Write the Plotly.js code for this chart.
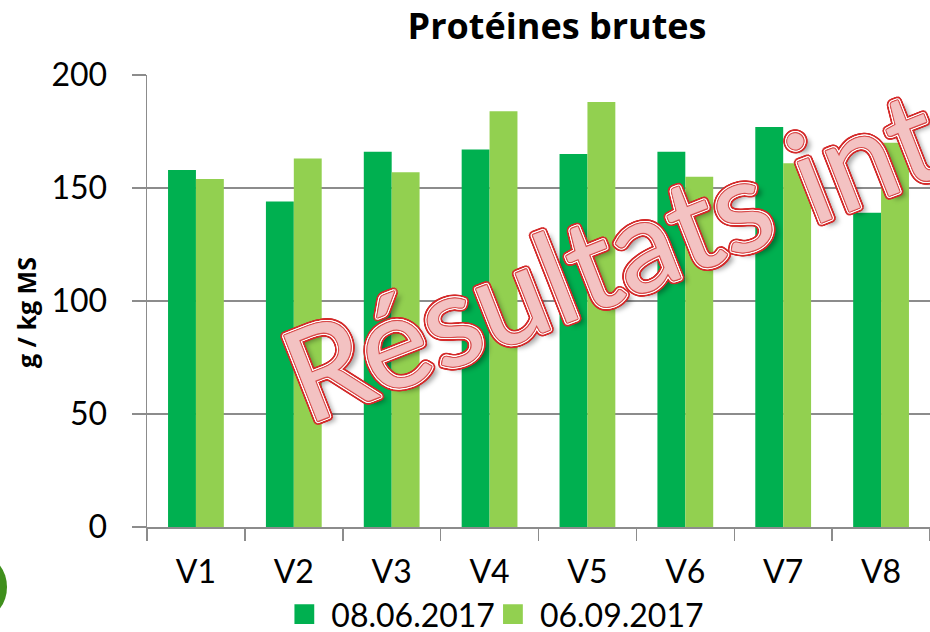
<!DOCTYPE html>
<html>
<head>
<meta charset="utf-8">
<script src="https://cdn.plot.ly/plotly-3.0.1.min.js"></script>
<style>html,body{margin:0;padding:0;background:#fff;overflow:hidden}#chart{width:930px;height:632px}</style>
</head>
<body>
<div id="chart"></div>
<script>
var categories = ["V1","V2","V3","V4","V5","V6","V7","V8"];
var seriesNames = ["08.06.2017","06.09.2017"];
var values0806 = [158,144,166,167,165,166,177,139];
var values0609 = [154,163,157,184,188,155,161,170];
var yTicks = [0,50,100,150,200];

var FONT = "Lato, 'Open Sans', sans-serif";
var FONT_B = "'Open Sans', Lato, sans-serif";
var colors = ["#00B050","#92D050"];

var traces = [
  {type:"bar", name:seriesNames[0], x:categories, y:values0806, marker:{color:colors[0]}},
  {type:"bar", name:seriesNames[1], x:categories, y:values0609, marker:{color:colors[1]}}
];

function ring(r, col, n){
  var a=[];
  for(var i=0;i<n;i++){var t=2*Math.PI*i/n;a.push((r*Math.cos(t)).toFixed(1)+"px "+(r*Math.sin(t)).toFixed(1)+"px 0 "+col);}
  return a;
}
var shadow = ring(1,"#d84a4a",10).concat(ring(2.2,"#ffffff",14)).concat(ring(4,"#d42a2a",18)).concat(["5px 6px 5px rgba(0,0,0,0.35)"]).join(", ");

var layout = {
  width:930, height:632,
  margin:{l:147, r:0, t:75, b:105},
  paper_bgcolor:"#ffffff", plot_bgcolor:"#ffffff",
  font:{family:FONT, color:"#000"},
  barmode:"group", bargap:0.43, bargroupgap:0,
  showlegend:true,
  title:{text:"Protéines brutes", font:{family:FONT_B, size:36, weight:"bold", color:"#000"},
         xref:"container", x:0.599, xanchor:"center", yref:"container", y:0.958, yanchor:"middle"},
  xaxis:{type:"category", range:[-0.5,7.5], showgrid:false, showline:true, linecolor:"#8c8c8c", linewidth:1.5,
         ticks:"outside", tickson:"boundaries", ticklen:12, tickcolor:"#8c8c8c", tickwidth:1.5,
         tickfont:{family:FONT, size:32, color:"#000"}, ticklabelstandoff:16, fixedrange:true},
  yaxis:{range:[0,200], tickvals:yTicks, showgrid:true, gridcolor:"#8c8c8c", gridwidth:1.5,
         showline:true, linecolor:"#8c8c8c", linewidth:1.5, zeroline:false,
         ticks:"outside", ticklen:14, tickcolor:"#8c8c8c", tickwidth:1.5,
         tickfont:{family:FONT, size:32, color:"#000"}, ticklabelstandoff:18,
         automargin:false, fixedrange:true},
  legend:{orientation:"h", xref:"container", yref:"container", x:0.538, xanchor:"center", y:0.028, yanchor:"middle",
          font:{family:FONT, size:32, color:"#000"}, itemwidth:30, tracegroupgap:0, bgcolor:"rgba(0,0,0,0)"},
  annotations:[
    {xref:"paper", yref:"paper", x:(26-147)/783, y:(527-313)/452, xanchor:"center", yanchor:"middle",
     text:"g / kg MS", showarrow:false, textangle:-90,
     font:{family:FONT_B, size:25, weight:"bold", color:"#000"}},
    {xref:"paper", yref:"paper", x:0.142, y:0.1637, xanchor:"left", yanchor:"bottom",
     text:"Résultats intermédiaires", showarrow:false, textangle:-21.5,
     font:{family:FONT, size:128, color:"#f3c2c2", shadow:shadow}}
  ],
  shapes:[{type:"circle", xref:"paper", yref:"paper", x0:-0.2388, x1:-0.1788, y0:-0.199, y1:-0.066,
           fillcolor:"#3f8f1c", line:{width:0}, layer:"above"}]
};

Plotly.newPlot("chart", traces, layout, {displayModeBar:false, staticPlot:true}).then(function(){
  document.querySelectorAll(".legend .legendpoints path").forEach(function(p){
    var d = p.getAttribute("d") || "";
    if (d.indexOf("M6,6H-6V-6H6Z") === -1) return;
    var t0 = p.getAttribute("transform") || "";
    p.setAttribute("transform", t0 + " translate(-7,0) scale(1.65)");
  });
});
</script>
</body>
</html>
